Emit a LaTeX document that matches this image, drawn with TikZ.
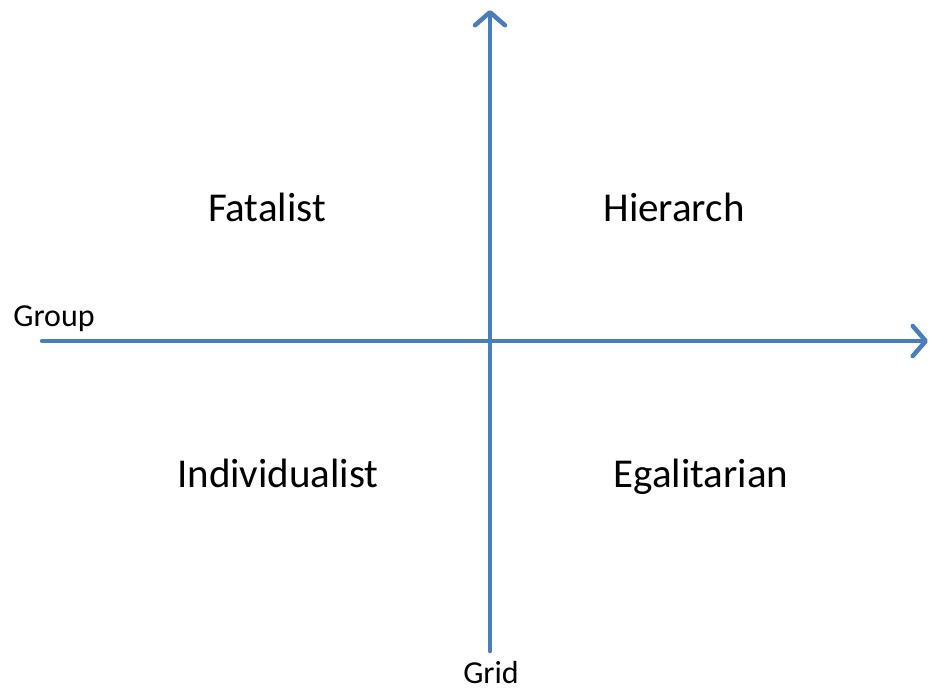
\documentclass[tikz,border=0pt]{standalone}
\usepackage{fontspec}
\setmainfont{Carlito}
\usetikzlibrary{arrows.meta}
\definecolor{axisblue}{RGB}{74,126,187}
\begin{document}
\begin{tikzpicture}[x=1pt,y=-1pt,
  axis/.style={axisblue, line width=4.5pt, line cap=round,
    -{Straight Barb[length=13pt,width=30pt,round]}},
  quad/.style={anchor=base, font=\fontsize{41}{48}\selectfont},
  axlabel/.style={anchor=base, inner sep=0pt, font=\fontsize{32}{38}\selectfont}]

 \useasboundingbox (0,0) rectangle (934,692);

 % axes
 \coordinate (west) at (42,341);
 \coordinate (east) at (928,341);
 \coordinate (south) at (490,651);
 \coordinate (north) at (490,10);
 \draw[axis] (west) -- (east);
 \draw[axis] (south) -- (north);

 % labels on the axes
 \node[axlabel] (group) at (54,327) {Group};
 \node[axlabel] (grid) at (491,683) {Grid};

 % the four quadrants
 \node[quad] (fatalist) at (267,222) {Fatalist};
 \node[quad] (hierarch) at (674,222) {Hierarch};
 \node[quad] (individualist) at (278,487) {Individualist};
 \node[quad] (egalitarian) at (701,487) {Egalitarian};

\end{tikzpicture}
\end{document}
